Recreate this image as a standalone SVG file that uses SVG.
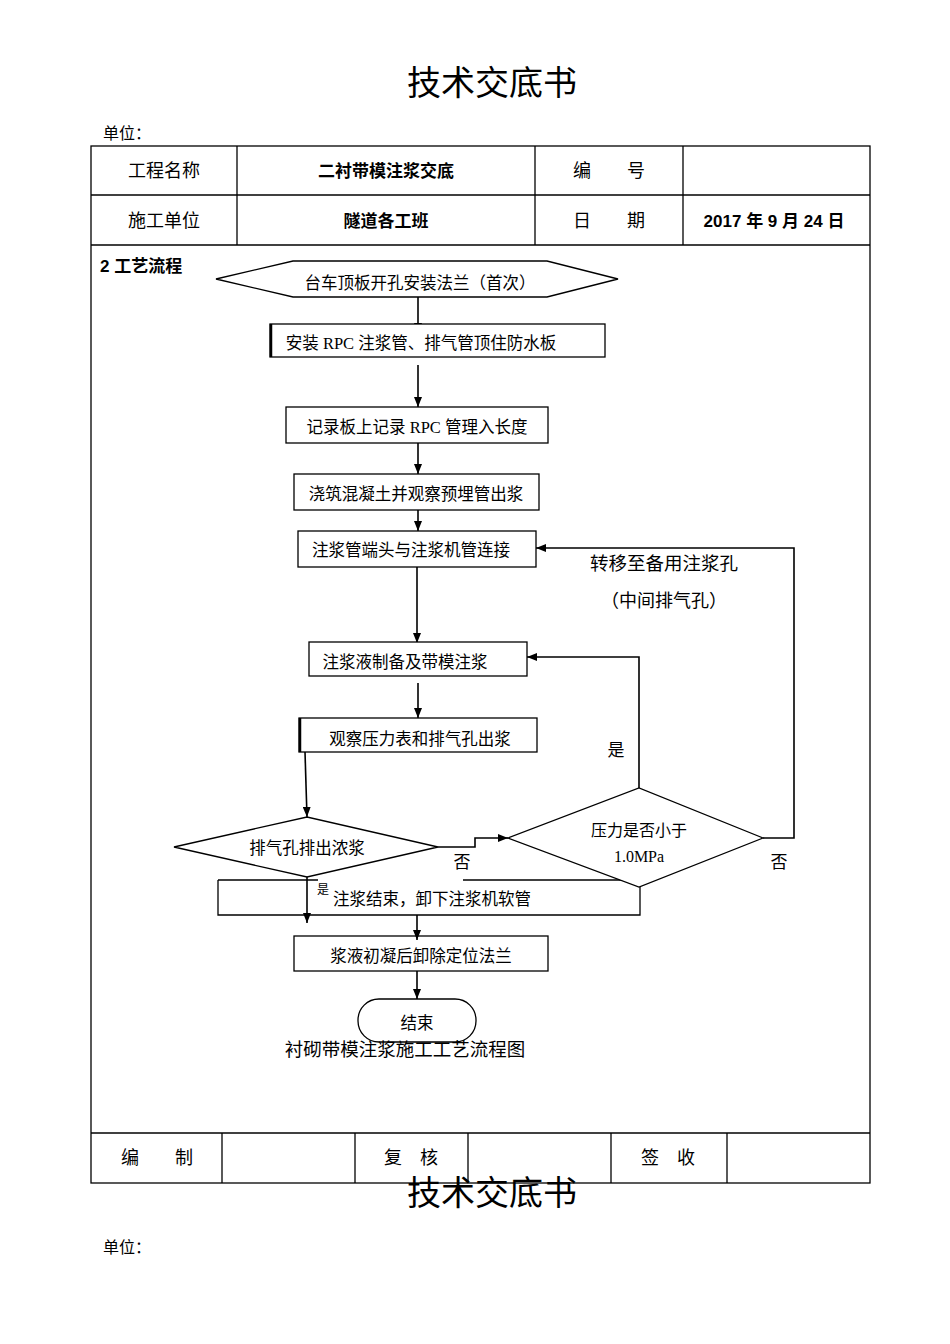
<svg xmlns="http://www.w3.org/2000/svg" width="950" height="1344" viewBox="0 0 950 1344">
<defs>
<style>
.t{font-family:"Liberation Serif","Noto Sans CJK SC",serif;fill:#000}
.b{font-family:"Liberation Sans","Noto Sans CJK SC",sans-serif;font-weight:bold;fill:#000}
.ln{stroke:#000;stroke-width:1.3;fill:none}
.nd{stroke:#000;stroke-width:1.3;fill:#fff}
.ar{stroke:#000;stroke-width:1.6;fill:none;marker-end:url(#ah)}
</style>
<marker id="ah" viewBox="0 0 10 8" refX="10" refY="4" markerWidth="10" markerHeight="8" markerUnits="userSpaceOnUse" orient="auto">
<path d="M0,0 L10,4 L0,8 z" fill="#000"/>
</marker>
</defs>
<rect width="950" height="1344" fill="#fff"/>

<g id="header">
<text class="t" x="492" y="95" font-size="34" text-anchor="middle">技术交底书</text>
<text class="t" x="103" y="139" font-size="16">单位：</text>
</g>

<g id="table">
<rect class="ln" x="91" y="146" width="779" height="1037"/>
<line class="ln" x1="91" y1="195" x2="870" y2="195"/>
<line class="ln" x1="91" y1="245" x2="870" y2="245"/>
<line class="ln" x1="237" y1="146" x2="237" y2="245"/>
<line class="ln" x1="535" y1="146" x2="535" y2="245"/>
<line class="ln" x1="683" y1="146" x2="683" y2="245"/>
<line class="ln" x1="91" y1="1133" x2="870" y2="1133"/>
<line class="ln" x1="222" y1="1133" x2="222" y2="1183"/>
<line class="ln" x1="355" y1="1133" x2="355" y2="1183"/>
<line class="ln" x1="468" y1="1133" x2="468" y2="1183"/>
<line class="ln" x1="611" y1="1133" x2="611" y2="1183"/>
<line class="ln" x1="727" y1="1133" x2="727" y2="1183"/>
<text class="t" x="164" y="177" font-size="18" text-anchor="middle">工程名称</text>
<text class="b" x="386" y="177" font-size="17" text-anchor="middle">二衬带模注浆交底</text>
<text class="t" x="609" y="177" font-size="18" text-anchor="middle">编　　号</text>
<text class="t" x="164" y="227" font-size="18" text-anchor="middle">施工单位</text>
<text class="b" x="386" y="227" font-size="17" text-anchor="middle">隧道各工班</text>
<text class="t" x="609" y="227" font-size="18" text-anchor="middle">日　　期</text>
<text class="b" x="774" y="227" font-size="17" text-anchor="middle">2017 年 9 月 24 日</text>
<text class="b" x="100" y="272" font-size="17">2 工艺流程</text>
<text class="t" x="157" y="1164" font-size="18" text-anchor="middle">编　　制</text>
<text class="t" x="411" y="1164" font-size="18" text-anchor="middle">复　核</text>
<text class="t" x="668" y="1164" font-size="18" text-anchor="middle">签　收</text>
</g>

<g id="connectors">
<line class="ar" x1="418" y1="297" x2="418" y2="333"/>
<line class="ar" x1="418" y1="365" x2="418" y2="407"/>
<line class="ar" x1="418" y1="443" x2="418" y2="474"/>
<line class="ar" x1="418" y1="510" x2="418" y2="531"/>
<line class="ar" x1="417" y1="567" x2="417" y2="643"/>
<line class="ar" x1="418" y1="683" x2="418" y2="718"/>
<line class="ar" x1="305" y1="752" x2="307" y2="817"/>
<polyline class="ar" points="438,847 475,847 475,838 508,838"/>
<polyline class="ar" points="639,788 639,657 527,657"/>
<polyline class="ar" points="763,838 794,838 794,548 536,548"/>
</g>

<g id="n1">
<polygon class="nd" points="216,279 293,261 547,261 618,279 547,297 293,297"/>
<text class="t" x="420" y="289" font-size="16.5" text-anchor="middle">台车顶板开孔安装法兰（首次）</text>
</g>
<g id="n2">
<rect class="nd" x="270" y="324" width="335" height="33"/>
<line x1="271" y1="324" x2="271" y2="357" stroke="#000" stroke-width="2.5"/>
<text class="t" x="421" y="349" font-size="16.5" text-anchor="middle">安装 RPC 注浆管、排气管顶住防水板</text>
</g>
<g id="n3">
<rect class="nd" x="286" y="407" width="262" height="36"/>
<text class="t" x="417" y="433" font-size="16.5" text-anchor="middle">记录板上记录 RPC 管理入长度</text>
</g>
<g id="n4">
<rect class="nd" x="294" y="474" width="245" height="36"/>
<text class="t" x="416" y="500" font-size="16.5" text-anchor="middle">浇筑混凝土并观察预埋管出浆</text>
</g>
<g id="n5">
<rect class="nd" x="298" y="531" width="238" height="36"/>
<text class="t" x="411" y="556" font-size="16.5" text-anchor="middle">注浆管端头与注浆机管连接</text>
</g>
<g id="n6">
<rect class="nd" x="309" y="642" width="218" height="34"/>
<text class="t" x="405" y="668" font-size="16.5" text-anchor="middle">注浆液制备及带模注浆</text>
</g>
<g id="n7">
<rect class="nd" x="299" y="718" width="238" height="34"/>
<line x1="300" y1="718" x2="300" y2="752" stroke="#000" stroke-width="2.5"/>
<text class="t" x="420" y="745" font-size="16.5" text-anchor="middle">观察压力表和排气孔出浆</text>
</g>
<g id="n8">
<line class="ln" x1="218" y1="880" x2="318" y2="880"/>
<line class="ln" x1="463" y1="880" x2="640" y2="880"/>
<polyline class="ln" points="218,880 218,915 640,915 640,880"/>
<text class="t" x="432" y="905" font-size="16.5" text-anchor="middle">注浆结束，卸下注浆机软管</text>
</g>
<g id="n9">
<polygon class="nd" points="174,847 307,817 438,847 307,877"/>
<text class="t" x="307" y="854" font-size="16.5" text-anchor="middle">排气孔排出浓浆</text>
</g>
<g id="n10">
<polygon class="nd" points="508,838 639,788 763,838 639,887"/>
<text class="t" x="639" y="836" font-size="16" text-anchor="middle">压力是否小于</text>
<text class="t" x="639" y="862" font-size="16" text-anchor="middle">1.0MPa</text>
</g>
<g id="n11">
<rect class="nd" x="294" y="936" width="254" height="35"/>
<text class="t" x="421" y="962" font-size="16.5" text-anchor="middle">浆液初凝后卸除定位法兰</text>
</g>
<g id="n12">
<rect class="nd" x="358" y="999" width="118" height="43" rx="21" ry="21"/>
<text class="t" x="417" y="1029" font-size="16.5" text-anchor="middle">结束</text>
</g>

<g id="connectors2">
<line class="ar" x1="307" y1="877" x2="307" y2="923"/>
<line class="ar" x1="417" y1="915" x2="417" y2="940"/>
<line class="ar" x1="417" y1="971" x2="417" y2="999"/>
</g>

<g id="labels">
<text class="t" x="664" y="570" font-size="18.5" text-anchor="middle">转移至备用注浆孔</text>
<text class="t" x="664" y="607" font-size="18" text-anchor="middle">（中间排气孔）</text>
<text class="t" x="616" y="756" font-size="17" text-anchor="middle">是</text>
<text class="t" x="462" y="868" font-size="17" text-anchor="middle">否</text>
<text class="t" x="779" y="868" font-size="17" text-anchor="middle">否</text>
<text class="t" x="323" y="894" font-size="12" text-anchor="middle">是</text>
<text class="t" x="405" y="1056" font-size="18.5" text-anchor="middle">衬砌带模注浆施工工艺流程图</text>
</g>

<g id="footer">
<text class="t" x="492" y="1205" font-size="34" text-anchor="middle">技术交底书</text>
<text class="t" x="103" y="1253" font-size="16">单位：</text>
</g>
</svg>
